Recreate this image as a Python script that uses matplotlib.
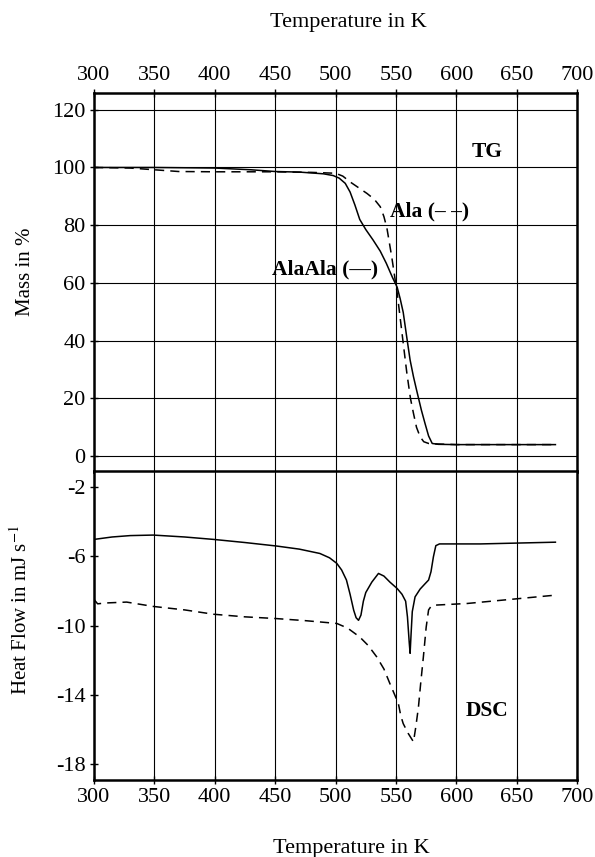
import matplotlib
matplotlib.use("Agg")
import matplotlib.pyplot as plt
import numpy as np

plt.rcParams['font.family'] = ['Liberation Serif', 'DejaVu Serif']
plt.rcParams['mathtext.fontset'] = 'stix'
plt.rcParams['axes.unicode_minus'] = False

# TG data (mass in %)
tg_alaala_T = [300, 350, 400, 430, 450, 470, 480, 490, 498, 503, 508, 512, 516, 520, 525, 531, 537, 542, 547,
               551, 553.5, 556, 559, 561.7, 564.5, 567, 571, 574, 577, 580, 585, 600, 650, 682]
tg_alaala_m = [100, 100, 99.8, 99.2, 98.6, 98.4, 98.1, 97.8, 97.2, 96.3, 94.5, 91.5, 87, 82, 78.5, 74.9, 71, 66.8, 62,
               58.5, 54.5, 49.8, 41, 33.3, 27.5, 23, 16, 11.4, 7, 4.4, 4.1, 4.0, 4.0, 4.0]
tg_ala_T = [300, 330, 350, 370, 400, 450, 480, 500, 506, 512, 519, 526, 532, 537, 540, 542.5, 544.5, 546.5, 549,
            551, 555, 559, 562, 564.5, 567, 570, 573, 577, 585, 600, 682]
tg_ala_m = [100, 99.8, 99.2, 98.6, 98.5, 98.5, 98.3, 98, 97, 95, 93, 91, 89, 86.4, 83, 79, 74, 69, 62,
            56.5, 42.6, 28.8, 20, 14.8, 10, 6.7, 5, 4.4, 4.2, 4.0, 4.0]

# DSC data (heat flow in mJ/s)
dsc_alaala_T = [300, 315, 330, 349, 375, 399, 425, 451, 470, 487, 495, 501, 505, 509, 512, 515, 517, 519, 521, 523,
                525, 530, 535.5, 540, 545, 551, 555, 558, 559.5, 561, 561.7, 562.5, 563.5, 565.8, 570, 574, 577,
                579, 581, 583, 586, 620, 682]
dsc_alaala_q = [-5.04, -4.9, -4.82, -4.79, -4.9, -5.04, -5.22, -5.42, -5.6, -5.85, -6.1, -6.42, -6.8, -7.38, -8.2,
                -9.12, -9.55, -9.7, -9.4, -8.6, -8.1, -7.5, -7.0, -7.15, -7.5, -7.87, -8.2, -8.6, -9.5, -11.0,
                -11.6, -10.5, -9.2, -8.35, -7.9, -7.6, -7.38, -6.9, -6.04, -5.4, -5.3, -5.3, -5.2]
dsc_ala_T = [300, 303, 310, 327, 349, 375, 399, 425, 451, 475, 501, 510, 520, 527, 534, 540, 545, 549, 552, 554,
             556, 560, 564.5, 566.5, 568.6, 570.5, 572.7, 575, 577, 579, 581, 609, 682]
dsc_ala_q = [-8.5, -8.75, -8.7, -8.65, -8.9, -9.1, -9.35, -9.5, -9.6, -9.72, -9.88, -10.15, -10.66, -11.15, -11.8,
             -12.5, -13.35, -14.0, -14.5, -15.2, -15.65, -16.2, -16.7, -15.8, -14.7, -13.3, -11.8, -10.1, -9.1,
             -8.9, -8.83, -8.73, -8.25]

temp_ticks = np.arange(300, 701, 50)

fig = plt.figure(figsize=(5.95, 8.57), dpi=100)

ax1 = fig.add_axes([0.158, 0.4492, 0.812, 0.4423])
ax2 = fig.add_axes([0.158, 0.0898, 0.812, 0.3606])

# top panel: TG
ax1.plot(tg_alaala_T, tg_alaala_m, c='k', lw=1.1)
ax1.plot(tg_ala_T, tg_ala_m, c='k', lw=1.1, ls=(0, (6, 4)))
ax1.set_xlim(300, 700)
ax1.set_ylim(-5.5, 125.8)
ax1.set_yticks([0, 20, 40, 60, 80, 100, 120])
ax1.set_xticks(temp_ticks)
ax1.xaxis.tick_top()
ax1.grid(True, color='k', lw=0.8)
ax1.text(613, 105.5, 'TG', fontsize=15.5, fontweight='bold', ha='left', va='center')
ax1.text(545, 84.7, 'Ala (– –)', fontsize=15.5, fontweight='bold', ha='left', va='center')
ax1.text(447, 64.5, 'AlaAla (—)', fontsize=15.5, fontweight='bold', ha='left', va='center')

# bottom panel: DSC
ax2.plot(dsc_alaala_T, dsc_alaala_q, c='k', lw=1.1)
ax2.plot(dsc_ala_T, dsc_ala_q, c='k', lw=1.1, ls=(0, (6, 4)))
ax2.set_xlim(300, 700)
ax2.set_ylim(-18.9, -1.1)
ax2.set_yticks([-2, -6, -10, -14, -18])
ax2.set_xticks(temp_ticks)
ax2.grid(True, axis='x', color='k', lw=0.8)
ax2.text(608, -14.9, 'DSC', fontsize=15.5, fontweight='bold', ha='left', va='center')

for ax in (ax1, ax2):
    for s in ax.spines.values():
        s.set_linewidth(1.8)
    ax.tick_params(labelsize=16, length=6, width=1, direction='inout', pad=3)

fig.text(348 / 595, 1 - 22 / 857, 'Temperature in K', fontsize=16, ha='center', va='center')
fig.text(351 / 595, 1 - 848 / 857, 'Temperature in K', fontsize=16, ha='center', va='center')
fig.text(25 / 595, 1 - 272 / 857, 'Mass in %', fontsize=15, rotation=90, ha='center', va='center')
fig.text(21 / 595, 1 - 610 / 857, 'Heat Flow in mJ s$^{-1}$', fontsize=15, rotation=90, ha='center', va='center')

fig.savefig('out.png', dpi=100)
